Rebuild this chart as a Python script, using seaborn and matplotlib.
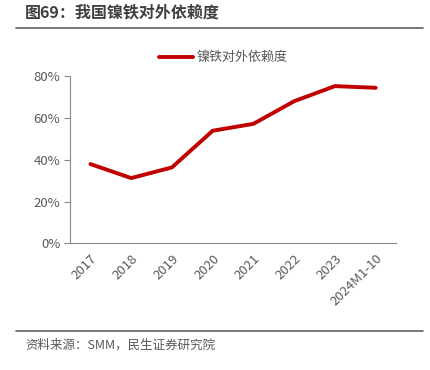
import matplotlib.pyplot as plt
import seaborn as sns
import pandas as pd
from matplotlib.lines import Line2D

# 数据
years = ["2017", "2018", "2019", "2020", "2021", "2022", "2023", "2024M1-10"]
dependence = [0.379, 0.312, 0.363, 0.538, 0.571, 0.679, 0.751, 0.743]
series_name = "镍铁对外依赖度"

df = pd.DataFrame({"year": years, "value": dependence})

sns.set_style("white")
plt.rcParams['font.family'] = ['Noto Sans CJK SC', 'DejaVu Sans']

fig = plt.figure(figsize=(4.3, 3.7), dpi=100)
ax = fig.add_axes([0.163, 0.342, 0.758, 0.453])

sns.lineplot(data=df, x="year", y="value", color="#C00000", linewidth=2.8,
             sort=False, ax=ax, label=series_name)

ax.set_ylim(0, 0.8)
ax.set_xlim(-0.5, len(years) - 0.5)
ax.set_yticks([0, 0.2, 0.4, 0.6, 0.8])
ax.set_yticklabels(["0%", "20%", "40%", "60%", "80%"])
ax.set_xticks(range(len(years)))
ax.set_xticklabels(years, rotation=45, ha="right", rotation_mode="anchor")
ax.set_xticks([i - 0.5 for i in range(len(years) + 1)], minor=True)
ax.tick_params(axis="x", which="major", length=0, pad=6)
ax.tick_params(axis="x", which="minor", length=4, color="#898989", width=0.8, direction="out")
ax.tick_params(axis="y", length=4, color="#898989", width=0.8, direction="out", left=True, pad=3)
ax.tick_params(labelsize=9.5, labelcolor="#595959")
ax.set_xlabel("")
ax.set_ylabel("")

for s in ["top", "right"]:
    ax.spines[s].set_visible(False)
for s in ["left", "bottom"]:
    ax.spines[s].set_color("#898989")
    ax.spines[s].set_linewidth(0.8)

ax.legend(loc="lower center", bbox_to_anchor=(0.47, 1.0), frameon=False,
          fontsize=9.4, labelcolor="#595959", handlelength=2.6, handletextpad=0.3)

# 标题和来源
fig.text(0.058, 0.967, "图69：我国镍铁对外依赖度", fontsize=11.5, fontweight="bold",
         color="#404040", va="center", ha="left")
fig.add_artist(Line2D([0.037, 0.984], [0.924, 0.924], color="#606060", linewidth=1.2))
fig.add_artist(Line2D([0.037, 0.984], [0.105, 0.105], color="#606060", linewidth=1.2))
fig.text(0.058, 0.066, "资料来源：SMM，民生证券研究院", fontsize=9, color="#595959",
         va="center", ha="left")

plt.savefig("out.png", dpi=100)
